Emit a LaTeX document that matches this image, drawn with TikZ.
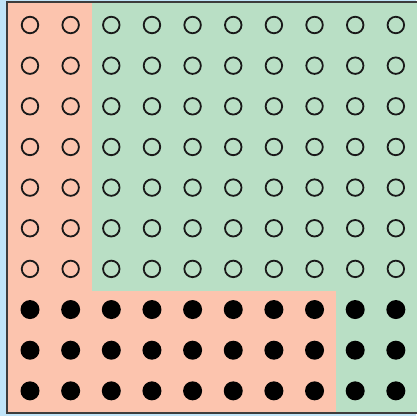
\documentclass[tikz,border=0pt]{standalone}
\usepackage{tikz}
\usepackage{xcolor}
\definecolor{bgblue}{RGB}{192,228,248}
\definecolor{salmon}{RGB}{252,196,174}
\definecolor{mint}{RGB}{185,223,197}
\definecolor{framegray}{RGB}{60,60,60}

\begin{document}
\begin{tikzpicture}[x=1pt,y=-1pt,
  hollow/.style={circle, draw=black!90, line width=1.8pt, minimum size=16.5pt, inner sep=0pt},
  solid/.style={circle, fill=black, minimum size=19pt, inner sep=0pt}]
% Background and frame
\fill[bgblue] (0,0) rectangle (416,416);
\useasboundingbox (0,0) rectangle (416,416);
\fill[mint] (7,2) rectangle (418,413);
\fill[salmon] (7,2) rectangle (91.5,290.5);
\fill[salmon] (7,290.5) rectangle (336,413);
\draw[framegray, line width=2pt] (7,2) rectangle (420,413);

% Open circles (rows 0-6)
\foreach \i in {0,...,9}
  \foreach \j in {0,...,6}
    \node[hollow] (c-\i-\j) at ({30+40.65*\i},{25+40.65*\j}) {};

% Filled dots (rows 7-9)
\foreach \i in {0,...,9}
  \foreach \j in {7,8,9}
    \node[solid] (c-\i-\j) at ({30+40.65*\i},{25+40.65*\j}) {};

\end{tikzpicture}
\end{document}
